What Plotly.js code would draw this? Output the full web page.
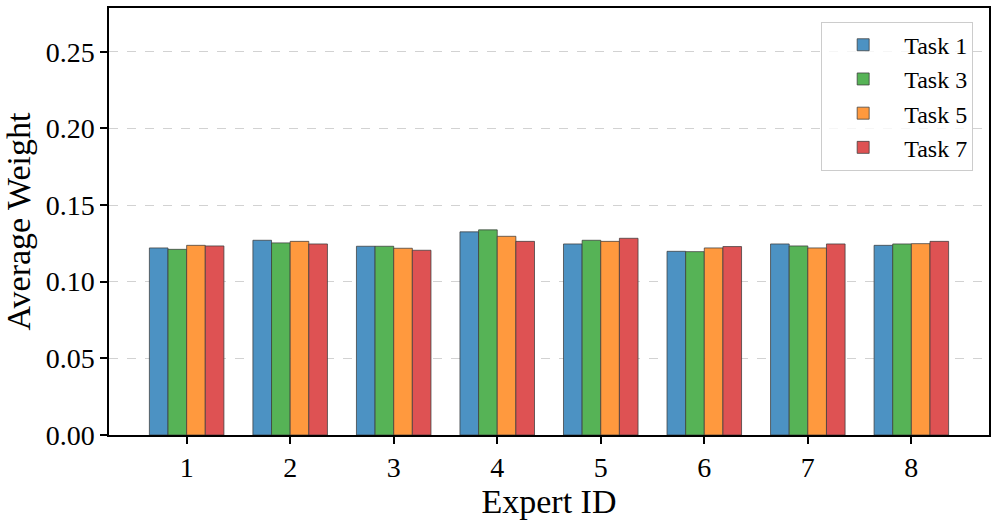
<!DOCTYPE html>
<html>
<head>
<meta charset="utf-8">
<script src="https://cdn.plot.ly/plotly-3.0.1.min.js"></script>
<style>html,body{margin:0;padding:0;background:#fff;}#chart{width:997px;height:520px;}</style>
</head>
<body>
<div id="chart"></div>
<script>
const experts = [1, 2, 3, 4, 5, 6, 7, 8];
const seriesNames = ["Task 1", "Task 3", "Task 5", "Task 7"];
const task1 = [0.1220, 0.1270, 0.1231, 0.1325, 0.1246, 0.1198, 0.1246, 0.1237];
const task3 = [0.1211, 0.1253, 0.1231, 0.1338, 0.1270, 0.1196, 0.1233, 0.1246];
const task5 = [0.1237, 0.1263, 0.1218, 0.1296, 0.1263, 0.1220, 0.1220, 0.1248];
const task7 = [0.1233, 0.1246, 0.1205, 0.1263, 0.1283, 0.1229, 0.1246, 0.1263];
const yTicks = [0, 0.05, 0.10, 0.15, 0.20, 0.25];
const yTickLabels = ["0.00", "0.05", "0.10", "0.15", "0.20", "0.25"];

const colors = ["rgb(76,146,195)", "rgb(86,179,86)", "rgb(255,153,62)", "rgb(222,82,83)"];
const allSeries = [task1, task3, task5, task7];
const font = "Liberation Serif, Times New Roman, serif";

const traces = allSeries.map((vals, i) => ({
  type: "bar",
  name: seriesNames[i],
  x: experts,
  y: vals,
  marker: {color: colors[i], line: {color: "rgba(60,60,60,0.75)", width: 1}},
  hoverinfo: "x+y+name"
}));

const layout = {
  width: 997, height: 520,
  margin: {l: 109, r: 8, t: 8, b: 85},
  paper_bgcolor: "#fff", plot_bgcolor: "#fff",
  barmode: "group", bargap: 0.28, bargroupgap: 0,
  font: {family: font, color: "#000", size: 28},
  xaxis: {
    range: [0.25, 8.75], tickvals: experts, ticktext: experts.map(String),
    showline: true, linecolor: "#000", linewidth: 1.5, mirror: true,
    ticks: "outside", ticklen: 7, tickwidth: 1.5, tickcolor: "#000",
    showgrid: false, zeroline: false, automargin: false,
    tickfont: {family: font, size: 28},
    title: {text: "Expert ID", font: {family: font, size: 34}, standoff: 4}
  },
  yaxis: {
    range: [0, 0.2785], tickvals: yTicks, ticktext: yTickLabels,
    showline: true, linecolor: "#000", linewidth: 1.5, mirror: true,
    ticks: "outside", ticklen: 7, tickwidth: 1.5, tickcolor: "#000",
    showgrid: true, gridcolor: "rgba(180,180,180,0.6)", griddash: "dash", gridwidth: 0.8,
    zeroline: false, automargin: false,
    tickfont: {family: font, size: 28},
    title: {text: "Average Weight", font: {family: font, size: 34}, standoff: 6}
  },
  legend: {
    x: 0.982, y: 0.968, xanchor: "right", yanchor: "top",
    bgcolor: "rgba(255,255,255,0.8)", bordercolor: "#ccc", borderwidth: 1,
    font: {family: font, size: 24}, tracegroupgap: 4, itemwidth: 72
  },
  showlegend: true
};

Plotly.newPlot("chart", traces, layout, {displayModeBar: false});
</script>
</body>
</html>
